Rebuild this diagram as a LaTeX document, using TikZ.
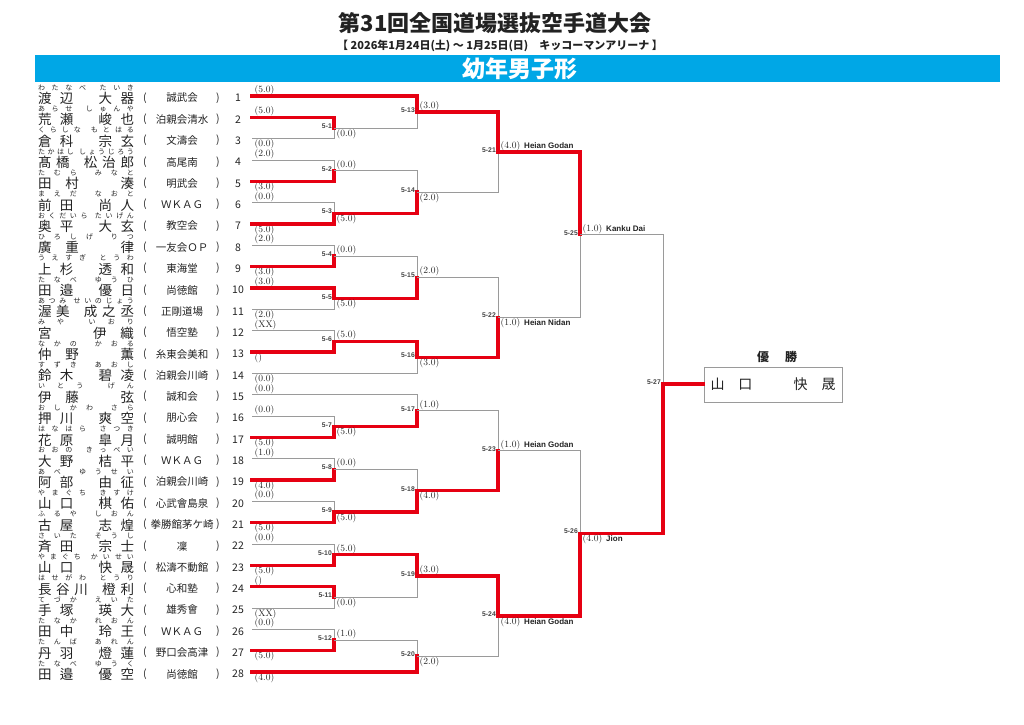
\documentclass[tikz,border=0pt]{standalone}
\usepackage{fontspec}
\newfontfamily\jp{Noto Sans CJK JP}
\newfontfamily\kataf{Liberation Sans}
\usetikzlibrary{calc}
\definecolor{bred}{HTML}{E60012}
\definecolor{lgray}{HTML}{9A9A9A}
\definecolor{banner}{HTML}{00A7E6}
\definecolor{ink}{HTML}{222222}
\tikzset{>=latex}
\tikzset{
  bline/.style={draw=lgray,line width=0.7pt},
  wline/.style={draw=bred,line width=3.3pt,line cap=rect,line join=miter},
  sc/.style={inner xsep=0.5pt,inner ysep=0.9pt,xshift=2pt,text=ink,font=\fontsize{9.5}{10}\selectfont},
  mlab/.style={anchor=east,inner sep=0.5pt,xshift=-1.5pt,yshift=1.8pt,text=ink!85,font=\kataf\bfseries\fontsize{6.8}{7}\selectfont},
  furi/.style={inner sep=0pt,text=ink,font=\jp\fontsize{7}{7}\selectfont},
  kanji/.style={inner sep=0pt,text=ink,font=\jp\fontsize{13.5}{14}\selectfont},
  club/.style={inner sep=0pt,text=ink,font=\jp\fontsize{10.5}{11}\selectfont}
}
\makeatletter
\def\spr#1{\spr@a#1\relax}
\def\spr@a#1{\ifx\relax#1\else#1\expandafter\spr@b\fi}
\def\spr@b#1{\ifx\relax#1\else\hfil#1\expandafter\spr@b\fi}
\makeatother
% width, gap between family and given name, family, given
\newcommand\pname[4]{\hbox to #1{\expandafter\spr\expandafter{#3}\hskip 0pt plus #2fil\expandafter\spr\expandafter{#4}}}
% number, upper, lower, column, winner
\newcommand\bout[5]{%
  \path ($(#2)!.5!(#3)$) coordinate (h#1);
  \coordinate (m#1) at (h#1 -| #4);
  \draw[bline] (#2) -- (#2 -| #4) -- (#3 -| #4) -- (#3);
  \draw[wline] (#5) -- (#5 -| #4) -- (m#1);
  \node[mlab] (l#1) at (m#1) {5-#1};
}
\newcommand\kata[1]{\hspace{4pt}{\kataf\bfseries\fontsize{8}{9}\selectfont #1}}
\begin{document}
\begin{tikzpicture}[x=1pt,y=-1pt]
\useasboundingbox (0,0) rectangle (1024,724);
\node[text=ink,font=\jp\bfseries\fontsize{22}{24}\selectfont] (title) at (495,23) {第31回全国道場選抜空手道大会};
\node[text=ink,font=\jp\bfseries\fontsize{11}{12}\selectfont] (date) at (500,46) {【 2026年1月24日(土) ～ 1月25日(日)\quad キッコーマンアリーナ 】};
\fill[banner] (35,55) rectangle (1000,82);
\node[text=white,font=\jp\bfseries\fontsize{23}{24}\selectfont] (cat) at (520,68.5) {幼年男子形};

\foreach \k/\sa/\sb/\fa/\fb/\club/\sc/\an in {
 1/渡辺/大器/わたなべ/たいき/誠武会/(5.0)/south west,
 2/荒瀬/峻也/あらせ/しゅんや/泊親会清水/(5.0)/south west,
 3/倉科/宗玄/くらしな/もとはる/文濤会/(0.0)/north west,
 4/髙橋/松治郎/たかはし/しょうじろう/高尾南/(2.0)/south west,
 5/田村/湊/たむら/みなと/明武会/(3.0)/north west,
 6/前田/尚人/まえだ/なおと/ＷＫＡＧ/(0.0)/south west,
 7/奥平/大玄/おくだいら/たいげん/教空会/(5.0)/north west,
 8/廣重/律/ひろしげ/りつ/一友会ＯＰ/(2.0)/south west,
 9/上杉/透和/うえすぎ/とうわ/東海堂/(3.0)/north west,
 10/田邉/優日/たなべ/ゆうひ/尚徳館/(3.0)/south west,
 11/渥美/成之丞/あつみ/せいのじょう/正剛道場/(2.0)/north west,
 12/宮/伊織/みや/いおり/悟空塾/(XX)/south west,
 13/仲野/薫/なかの/かおる/糸東会美和/()/north west,
 14/鈴木/碧凌/すずき/あおし/泊親会川崎/(0.0)/north west,
 15/伊藤/弦/いとう/げん/誠和会/(0.0)/south west,
 16/押川/爽空/おしかわ/さら/朋心会/(0.0)/south west,
 17/花原/皐月/はなはら/さつき/誠明館/(5.0)/north west,
 18/大野/桔平/おおの/きっぺい/ＷＫＡＧ/(1.0)/south west,
 19/阿部/由征/あべ/ゆうせい/泊親会川崎/(4.0)/north west,
 20/山口/棋佑/やまぐち/きすけ/心武會島泉/(0.0)/south west,
 21/古屋/志煌/ふるや/しおん/拳勝館茅ケ崎/(5.0)/north west,
 22/斉田/宗士/さいた/そうし/凜/(0.0)/south west,
 23/山口/快晟/やまぐち/かいせい/松濤不動館/(5.0)/north west,
 24/長谷川/橙利/はせがわ/とうり/心和塾/()/south west,
 25/手塚/瑛大/てづか/えいた/雄秀會/(XX)/north west,
 26/田中/玲王/たなか/れおん/ＷＫＡＧ/(0.0)/south west,
 27/丹羽/燈蓮/たんば/あれん/野口会高津/(5.0)/north west,
 28/田邉/優空/たなべ/ゆうく/尚徳館/(4.0)/north west}{
  \pgfmathsetmacro\yy{96+(\k-1)*21.333}
  \node[furi] (fu\k) at (86,\yy-8.5) {\pname{96pt}{2}{\fa}{\fb}};
  \node[kanji] (nm\k) at (86,\yy+2.5) {\pname{96pt}{3}{\sa}{\sb}};
  \node[club] (lp\k) at (145,\yy+2) {(};
  \node[club] (cl\k) at (182,\yy+2) {\club};
  \node[club] (rp\k) at (218,\yy+2) {)};
  \node[club] (no\k) at (238,\yy+2) {\k};
  \coordinate (e\k) at (252,\yy);
  \node[sc,anchor=\an] (se\k) at (e\k) {\sc};
}

\coordinate (c1) at (334,0);
\coordinate (c2) at (417,0);
\coordinate (c3) at (498,0);
\coordinate (c4) at (580,0);
\coordinate (c5) at (663,0);

\bout{1}{e2}{e3}{c1}{e2}
\bout{2}{e4}{e5}{c1}{e5}
\bout{3}{e6}{e7}{c1}{e7}
\bout{4}{e8}{e9}{c1}{e9}
\bout{5}{e10}{e11}{c1}{e10}
\bout{6}{e12}{e13}{c1}{e13}
\bout{7}{e16}{e17}{c1}{e17}
\bout{8}{e18}{e19}{c1}{e19}
\bout{9}{e20}{e21}{c1}{e21}
\bout{10}{e22}{e23}{c1}{e23}
\bout{11}{e24}{e25}{c1}{e24}
\bout{12}{e26}{e27}{c1}{e27}
\bout{13}{e1}{m1}{c2}{e1}
\bout{14}{m2}{m3}{c2}{m3}
\bout{15}{m4}{m5}{c2}{m5}
\bout{16}{m6}{e14}{c2}{m6}
\bout{17}{e15}{m7}{c2}{m7}
\bout{18}{m8}{m9}{c2}{m9}
\bout{19}{m10}{m11}{c2}{m10}
\bout{20}{m12}{e28}{c2}{e28}
\bout{21}{m13}{m14}{c3}{m13}
\bout{22}{m15}{m16}{c3}{m16}
\bout{23}{m17}{m18}{c3}{m18}
\bout{24}{m19}{m20}{c3}{m19}
\bout{25}{m21}{m22}{c4}{m21}
\bout{26}{m23}{m24}{c4}{m24}
\bout{27}{m25}{m26}{c5}{m26}

\foreach \m/\sc/\an in {1/(0.0)/north west, 2/(0.0)/south west, 3/(5.0)/north west,
  4/(0.0)/south west, 5/(5.0)/north west, 6/(5.0)/south west, 7/(5.0)/north west,
  8/(0.0)/south west, 9/(5.0)/north west, 10/(5.0)/south west, 11/(0.0)/north west,
  12/(1.0)/south west, 13/(3.0)/south west, 14/(2.0)/north west, 15/(2.0)/south west,
  16/(3.0)/north west, 17/(1.0)/south west, 18/(4.0)/north west, 19/(3.0)/south west,
  20/(2.0)/north west}
  \node[sc,anchor=\an] (s\m) at (m\m) {\sc};
\node[sc,anchor=south west] (s21) at (m21) {(4.0)\kata{Heian Godan}};
\node[sc,anchor=north west] (s22) at (m22) {(1.0)\kata{Heian Nidan}};
\node[sc,anchor=south west] (s23) at (m23) {(1.0)\kata{Heian Godan}};
\node[sc,anchor=north west] (s24) at (m24) {(4.0)\kata{Heian Godan}};
\node[sc,anchor=south west] (s25) at (m25) {(1.0)\kata{Kanku Dai}};
\node[sc,anchor=north west] (s26) at (m26) {(4.0)\kata{Jion}};

\node[draw=lgray,line width=0.7pt,minimum width=138pt,minimum height=35pt,inner sep=0pt,text=ink,font=\jp\fontsize{14}{15}\selectfont] (champ) at (773,384.5) {\pname{125pt}{3}{山口}{快晟}};
\node[text=ink,font=\jp\bfseries\fontsize{12}{13}\selectfont] (yusho) at (777,357) {優\hspace{16pt}勝};
\draw[wline] (m27) -- (m27 -| champ.west);
\end{tikzpicture}
\end{document}
